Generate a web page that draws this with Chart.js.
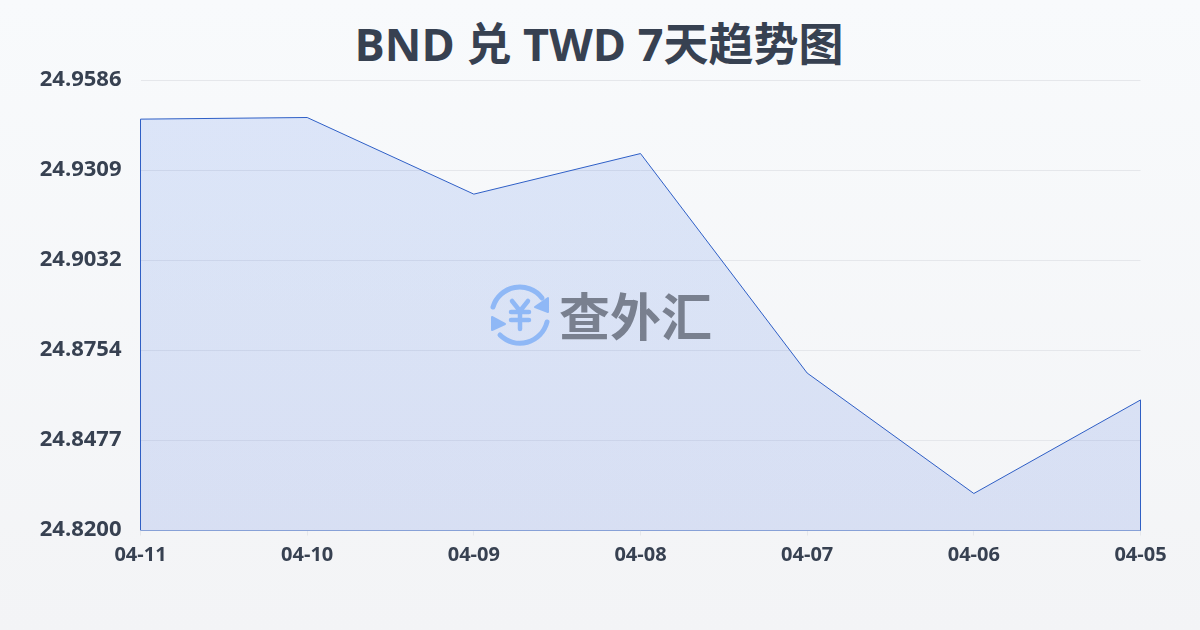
<!DOCTYPE html>
<html lang="zh">
<head>
<meta charset="utf-8">
<title>BND 兑 TWD 7天趋势图</title>
<script src="https://cdn.jsdelivr.net/npm/chart.js@4/dist/chart.umd.min.js"></script>
<style>
  html, body { margin: 0; padding: 0; }
  body { width: 1200px; height: 630px; overflow: hidden; position: relative; background: linear-gradient(180deg, #f8fafc 0%, #f3f4f6 100%); }
  #chart { position: absolute; left: 0; top: 0; }
  h1 { position: absolute; left: -1px; top: 13px; width: 1200px; margin: 0; text-align: center; font: 700 45px/62px "Open Sans", "Noto Sans CJK SC", sans-serif; color: #374151; white-space: nowrap; }
  #mark { position: absolute; left: 488px; top: 283px; width: 240px; height: 64px; }
  #mark svg { position: absolute; left: 0; top: 0; }
  #mark span { position: absolute; left: 71px; top: -1px; font: 700 51px/64px "Noto Sans CJK SC", sans-serif; color: #79808f; white-space: nowrap; }
</style>
</head>
<body>
<h1>BND 兑 TWD 7天趋势图</h1>
<canvas id="chart" width="1200" height="630"></canvas>
<div id="mark">
  <svg width="64" height="64" viewBox="0 0 64 64" fill="none" stroke="#8fb8f6" stroke-width="5" stroke-linecap="round" stroke-linejoin="round">
    <path d="M5 24 A28 28 0 0 1 54 15"/>
    <path d="M59 39 A28 28 0 0 1 12 52"/>
    <path d="M60 15 L60 29 L47 24 Z" fill="#8fb8f6" stroke-width="2"/>
    <path d="M4 34 L4 47 L17 41 Z" fill="#8fb8f6" stroke-width="2"/>
    <path d="M24 18 L32 28 L40 18 M32 28 L32 46 M23 29 L41 29 M23 37 L41 37" stroke-width="4.5"/>
  </svg>
  <span>查外汇</span>
</div>
<script>
  const days = ['04-11', '04-10', '04-09', '04-08', '04-07', '04-06', '04-05'];
  const rates = [24.9467, 24.9472, 24.9236, 24.9361, 24.8685, 24.8314, 24.8602];
  const yTicks = [24.82, 24.8477, 24.8754, 24.9032, 24.9309, 24.9586];
  const yMin = 24.82;
  const yMax = 24.9586;

  // closed outline: the reference strokes the sides and bottom of the area too
  const outline = [
    { x: days[0], y: yMin },
    ...days.map((d, i) => ({ x: d, y: rates[i] })),
    { x: days[days.length - 1], y: yMin },
    { x: days[0], y: yMin }
  ];

  const ctx = document.getElementById('chart').getContext('2d');

  const areaFill = ctx.createLinearGradient(0, 117, 0, 530);
  areaFill.addColorStop(0, 'rgba(37, 99, 235, 0.13)');
  areaFill.addColorStop(1, 'rgba(29, 78, 216, 0.13)');

  new Chart(ctx, {
    type: 'line',
    data: {
      labels: days,
      datasets: [
        {
          data: rates,
          borderWidth: 0,
          backgroundColor: areaFill,
          fill: 'start',
          tension: 0,
          pointRadius: 0
        },
        {
          data: outline,
          borderColor: '#2f5fc4',
          borderWidth: 1,
          fill: false,
          tension: 0,
          pointRadius: 0
        }
      ]
    },
    options: {
      responsive: false,
      animation: false,
      layout: { padding: { top: 80.5, right: 59.5, bottom: 0, left: 0 } },
      plugins: {
        legend: { display: false },
        tooltip: { enabled: false }
      },
      scales: {
        x: {
          afterFit: (axis) => { axis.height = 99.5; },
          grid: { drawOnChartArea: false, drawTicks: true, tickLength: 5, color: '#e5e7eb' },
          border: { display: false },
          ticks: {
            color: '#374151',
            font: { family: '"Open Sans", sans-serif', size: 20, weight: '700' },
            maxRotation: 0,
            autoSkip: false,
            padding: 8
          }
        },
        y: {
          min: yMin,
          max: yMax,
          afterFit: (axis) => { axis.width = 140.5; },
          afterBuildTicks: (axis) => { axis.ticks = yTicks.map((v) => ({ value: v })); },
          grid: { color: '#e5e7eb', lineWidth: 1, drawTicks: false },
          border: { display: false },
          ticks: {
            color: '#374151',
            font: { family: '"Open Sans", sans-serif', size: 22, weight: '700' },
            padding: 19,
            labelOffset: -1,
            callback: (v) => v.toFixed(4)
          }
        }
      }
    }
  });
</script>
</body>
</html>
